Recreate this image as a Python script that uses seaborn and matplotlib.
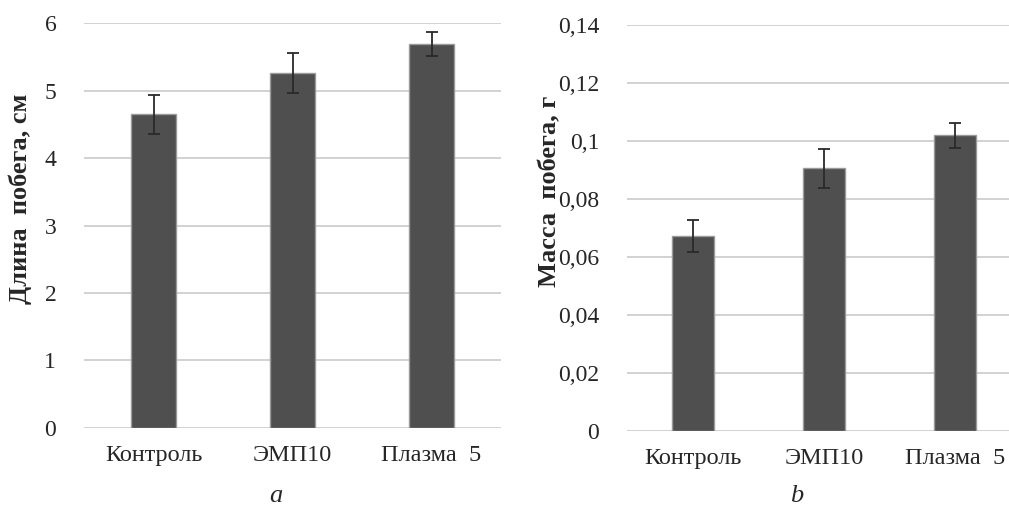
import seaborn as sns
import matplotlib.pyplot as plt
import pandas as pd
from matplotlib.ticker import FuncFormatter

# Data
groups = ["Контроль", "ЭМП10", "Плазма  5"]
length_mean = [4.65, 5.26, 5.69]
length_err = [0.29, 0.29, 0.18]
mass_mean = [0.0672, 0.0906, 0.1019]
mass_err = [0.0055, 0.0068, 0.0043]

sns.set_theme(style="white")
plt.rcParams["font.family"] = "serif"
plt.rcParams["font.serif"] = ["Liberation Serif", "DejaVu Serif"]

bar_color = "#4f4f4f"
edge_color = "#9a9a9a"
grid_color = "#cfcfcf"
text_color = "#262626"

fig = plt.figure(figsize=(10.09, 5.08), dpi=100)
ax1 = fig.add_axes([0.0833, 0.1575, 0.4133, 0.7972])
ax2 = fig.add_axes([0.6214, 0.1516, 0.3786, 0.7992])

df_len = pd.DataFrame({"group": groups, "value": length_mean})
df_mass = pd.DataFrame({"group": groups, "value": mass_mean})

sns.barplot(data=df_len, x="group", y="value", color=bar_color, width=0.32,
            edgecolor=edge_color, linewidth=1, saturation=1, errorbar=None, ax=ax1)
ax1.errorbar(range(len(groups)), length_mean, yerr=length_err, fmt="none",
             ecolor="#2a2a2a", elinewidth=1.3, capsize=4.5, capthick=1.3, zorder=5)

sns.barplot(data=df_mass, x="group", y="value", color=bar_color, width=0.32,
            edgecolor=edge_color, linewidth=1, saturation=1, errorbar=None, ax=ax2)
ax2.errorbar(range(len(groups)), mass_mean, yerr=mass_err, fmt="none",
             ecolor="#2a2a2a", elinewidth=1.3, capsize=4.5, capthick=1.3, zorder=5)

ax1.set_ylim(0, 6)
ax1.set_yticks(range(0, 7))
ax1.set_xlim(-0.5, 2.5)

ax2.set_ylim(0, 0.14)
ax2.set_yticks([0, 0.02, 0.04, 0.06, 0.08, 0.10, 0.12, 0.14])
ax2.yaxis.set_major_formatter(FuncFormatter(lambda v, p: "0" if v == 0 else f"{v:.2f}".rstrip("0").replace(".", ",")))
ax2.set_xlim(-0.5, 2.41)

for ax in (ax1, ax2):
    for s in ax.spines.values():
        s.set_visible(False)
    ax.yaxis.grid(True, color=grid_color, linewidth=1.3)
    ax.set_axisbelow(True)
    ax.tick_params(axis="y", length=0, labelsize=17, colors=text_color, pad=20)
    ax.tick_params(axis="x", length=0, labelsize=17.5, colors=text_color, pad=12)
    ax.set_xlabel("")

ax1.set_ylabel("Длина  побега, см", fontsize=19, fontweight="bold", color=text_color)
ax1.yaxis.set_label_coords(-0.125, 0.565)
ax2.set_ylabel("Масса  побега, г", fontsize=19, fontweight="bold", color=text_color)
ax2.yaxis.set_label_coords(-0.172, 0.59)

fig.text(0.273, 0.012, "a", fontsize=19, style="italic", ha="center", color=text_color)
fig.text(0.790, 0.012, "b", fontsize=19, style="italic", ha="center", color=text_color)

fig.savefig("out.png", dpi=100)
